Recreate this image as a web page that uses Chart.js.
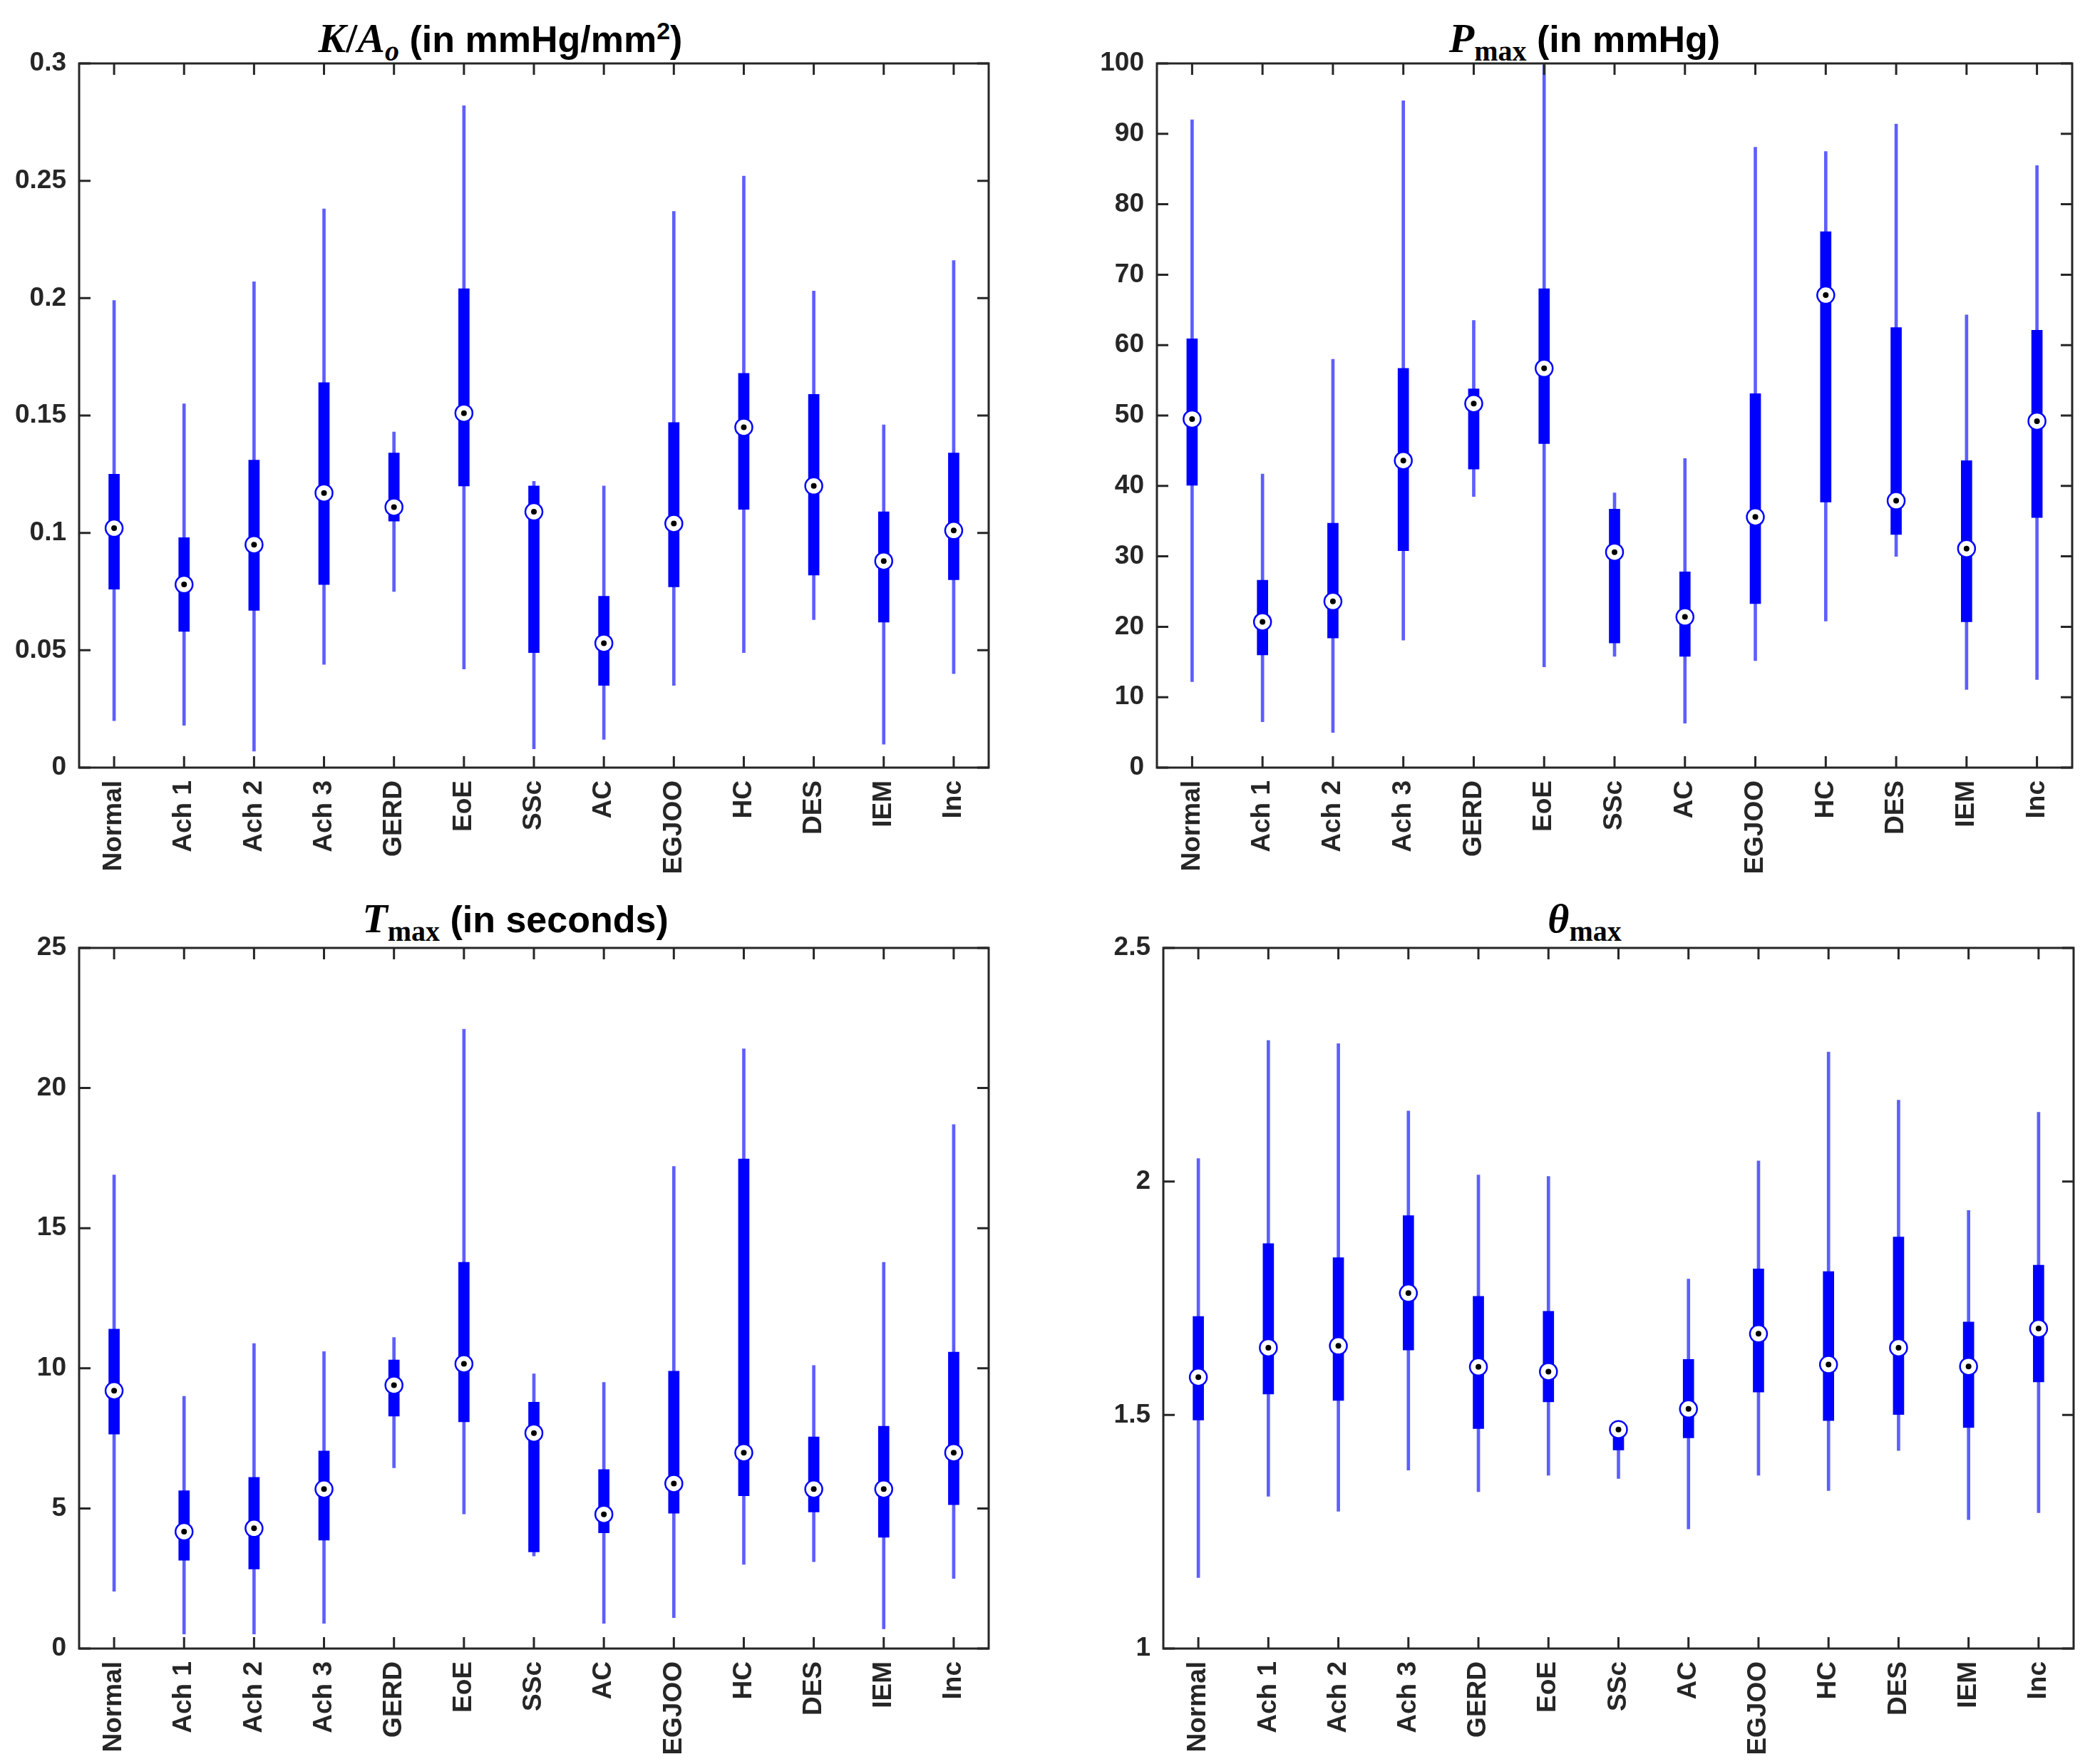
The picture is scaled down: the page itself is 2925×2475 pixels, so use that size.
<!DOCTYPE html>
<html>
<head>
  <title>Boxplots by group</title>
  <style>
    body {
      margin: 0;
      padding: 0;
      background-color: white;
      width: 2925px;
      height: 2475px;
      position: relative;
      overflow: hidden;
    }
    .panel {
      position: absolute;
    }
    .title {
      position: absolute;
      width: 900px;
      text-align: center;
      font-family: "Liberation Sans", Arial, sans-serif;
      font-weight: bold;
      font-size: 52px;
      line-height: 60px;
      color: black;
      white-space: nowrap;
    }
    .m {
      font-family: "Liberation Serif", "DejaVu Serif", serif;
      font-style: italic;
      font-weight: bold;
      font-size: 58px;
    }
    .sub {
      font-family: "Liberation Serif", "DejaVu Serif", serif;
      font-weight: bold;
      font-size: 40px;
      position: relative;
      top: 12px;
    }
    .subi {
      font-style: italic;
    }
    .sup {
      font-size: 34px;
      position: relative;
      top: -18px;
    }
  </style>
</head>
<body>
  <div class="title" style="left:252px; top:24px;"><span class="m">K</span><span class="m" style="font-style:normal">/</span><span class="m">A</span><span class="sub subi">o</span> (in mmHg/mm<span class="sup">2</span>)</div>
  <div class="title" style="left:1773px; top:24px;"><span class="m">P</span><span class="sub">max</span> (in mmHg)</div>
  <div class="title" style="left:273px; top:1259px;"><span class="m">T</span><span class="sub">max</span> (in seconds)</div>
  <div class="title" style="left:1773px; top:1259px;"><span class="m">θ</span><span class="sub">max</span></div>

  <canvas id="c1" class="panel" style="left:0px; top:0px;" width="1462" height="1237"></canvas>
  <canvas id="c2" class="panel" style="left:1462px; top:0px;" width="1463" height="1237"></canvas>
  <canvas id="c3" class="panel" style="left:0px; top:1237px;" width="1462" height="1238"></canvas>
  <canvas id="c4" class="panel" style="left:1462px; top:1237px;" width="1463" height="1238"></canvas>

  <script src="https://cdn.jsdelivr.net/npm/chart.js"></script>
  <script>
    const categories = ["Normal", "Ach 1", "Ach 2", "Ach 3", "GERD", "EoE", "SSc", "AC", "EGJOO", "HC", "DES", "IEM", "Inc"];

    // K/Ao (mmHg/mm^2)
    const kLow  = [0.020, 0.018, 0.007, 0.044, 0.075, 0.042, 0.008, 0.012, 0.035, 0.049, 0.063, 0.010, 0.040];
    const kQ1   = [0.076, 0.058, 0.067, 0.078, 0.105, 0.120, 0.049, 0.035, 0.077, 0.110, 0.082, 0.062, 0.080];
    const kMed  = [0.102, 0.078, 0.095, 0.117, 0.111, 0.151, 0.109, 0.053, 0.104, 0.145, 0.120, 0.088, 0.101];
    const kQ3   = [0.125, 0.098, 0.131, 0.164, 0.134, 0.204, 0.120, 0.073, 0.147, 0.168, 0.159, 0.109, 0.134];
    const kHigh = [0.199, 0.155, 0.207, 0.238, 0.143, 0.282, 0.122, 0.120, 0.237, 0.252, 0.203, 0.146, 0.216];

    // Pmax (mmHg)
    const pLow  = [12.2, 6.5, 5.0, 18.1, 38.5, 14.3, 15.8, 6.3, 15.2, 20.8, 30.0, 11.1, 12.5];
    const pQ1   = [40.1, 16.0, 18.4, 30.8, 42.4, 46.0, 17.7, 15.8, 23.3, 37.7, 33.1, 20.7, 35.5];
    const pMed  = [49.5, 20.7, 23.6, 43.6, 51.7, 56.7, 30.6, 21.4, 35.6, 67.1, 37.9, 31.1, 49.2];
    const pQ3   = [60.9, 26.6, 34.7, 56.7, 53.8, 68.0, 36.7, 27.8, 53.1, 76.1, 62.5, 43.6, 62.1];
    const pHigh = [92.0, 41.7, 58.0, 94.7, 63.5, 99.8, 39.0, 43.9, 88.1, 87.5, 91.4, 64.3, 85.5];

    // Tmax (s)
    const tLow  = [2.04, 0.52, 0.52, 0.90, 6.45, 4.80, 3.30, 0.90, 1.10, 3.00, 3.10, 0.70, 2.50];
    const tQ1   = [7.65, 3.15, 2.84, 3.87, 8.29, 8.09, 3.45, 4.13, 4.83, 5.45, 4.87, 3.97, 5.13];
    const tMed  = [9.20, 4.17, 4.29, 5.69, 9.40, 10.16, 7.69, 4.79, 5.89, 6.99, 5.69, 5.69, 6.99];
    const tQ3   = [11.40, 5.63, 6.11, 7.05, 10.30, 13.78, 8.79, 6.39, 9.90, 17.47, 7.55, 7.93, 10.58];
    const tHigh = [16.90, 9.00, 10.88, 10.60, 11.10, 22.10, 9.80, 9.50, 17.20, 21.40, 10.10, 13.78, 18.70];

    // theta max
    const thLow  = [1.152, 1.326, 1.294, 1.382, 1.336, 1.371, 1.364, 1.256, 1.371, 1.338, 1.424, 1.276, 1.291];
    const thQ1   = [1.489, 1.545, 1.531, 1.639, 1.471, 1.528, 1.425, 1.451, 1.549, 1.488, 1.501, 1.473, 1.571];
    const thMed  = [1.581, 1.644, 1.648, 1.761, 1.603, 1.593, 1.469, 1.513, 1.674, 1.608, 1.644, 1.604, 1.685];
    const thQ3   = [1.711, 1.867, 1.837, 1.927, 1.754, 1.722, 1.480, 1.619, 1.813, 1.807, 1.881, 1.699, 1.821];
    const thHigh = [2.049, 2.302, 2.295, 2.151, 2.014, 2.011, 1.485, 1.791, 2.044, 2.277, 2.174, 1.938, 2.148];

    const axisColor = "#262626";
    const tickFont = { family: "'Liberation Sans', Arial, sans-serif", size: 37, weight: "bold" };

    // matlab style box with ticks pointing inward on all four sides
    const innerTicks = {
      id: "innerTicks",
      afterDraw(chart) {
        const ctx = chart.ctx;
        const a = chart.chartArea;
        const len = 16;
        ctx.save();
        ctx.strokeStyle = axisColor;
        ctx.lineWidth = 3;
        ctx.beginPath();
        chart.scales.x.ticks.forEach((t, i) => {
          const px = chart.scales.x.getPixelForTick(i);
          ctx.moveTo(px, a.bottom);
          ctx.lineTo(px, a.bottom - len);
          ctx.moveTo(px, a.top);
          ctx.lineTo(px, a.top + len);
        });
        chart.scales.y.ticks.forEach((t) => {
          const py = chart.scales.y.getPixelForValue(t.value);
          ctx.moveTo(a.left, py);
          ctx.lineTo(a.left + len, py);
          ctx.moveTo(a.right, py);
          ctx.lineTo(a.right - len, py);
        });
        ctx.stroke();
        ctx.strokeRect(a.left, a.top, a.right - a.left, a.bottom - a.top);
        ctx.restore();
      }
    };

    function makeChart(id, low, q1, med, q3, high, yMin, yMax, step, box) {
      const ctx = document.getElementById(id).getContext("2d");
      const whiskers = low.map((v, i) => [v, high[i]]);
      const boxes = q1.map((v, i) => [v, q3[i]]);
      return new Chart(ctx, {
        data: {
          labels: categories,
          datasets: [
            {
              type: "bar",
              data: whiskers,
              backgroundColor: "rgba(40, 40, 255, 0.75)",
              barThickness: 4,
              grouped: false,
              order: 4
            },
            {
              type: "bar",
              data: boxes,
              backgroundColor: "#0000ff",
              barThickness: 15,
              grouped: false,
              order: 3
            },
            {
              type: "line",
              data: med,
              showLine: false,
              pointRadius: 12,
              pointBackgroundColor: "white",
              pointBorderColor: "#0000ff",
              pointBorderWidth: 2.5,
              order: 2
            },
            {
              type: "line",
              data: med,
              showLine: false,
              pointRadius: 4,
              pointBackgroundColor: "black",
              pointBorderWidth: 0,
              order: 1
            }
          ]
        },
        options: {
          responsive: false,
          animation: false,
          devicePixelRatio: 1,
          layout: { padding: { left: 0, top: box.top, right: box.right, bottom: 0 } },
          plugins: { legend: { display: false }, tooltip: { enabled: false } },
          scales: {
            x: {
              type: "category",
              offset: true,
              grid: { display: false, drawTicks: false },
              border: { display: false },
              ticks: {
                color: axisColor,
                font: tickFont,
                autoSkip: false,
                minRotation: 90,
                maxRotation: 90,
                padding: 18
              },
              afterFit(scale) { scale.height = box.xh; }
            },
            y: {
              min: yMin,
              max: yMax,
              grid: { display: false, drawTicks: false },
              border: { display: false },
              ticks: {
                stepSize: step,
                color: axisColor,
                font: tickFont,
                padding: 18,
                callback: (v) => String(Math.round(v * 1000) / 1000)
              },
              afterFit(scale) { scale.width = box.yw; }
            }
          }
        },
        plugins: [innerTicks]
      });
    }

    makeChart("c1", kLow, kQ1, kMed, kQ3, kHigh, 0, 0.3, 0.05, { top: 89, right: 75, yw: 111, xh: 160 });
    makeChart("c2", pLow, pQ1, pMed, pQ3, pHigh, 0, 100, 10, { top: 89, right: 18, yw: 161, xh: 160 });
    makeChart("c3", tLow, tQ1, tMed, tQ3, tHigh, 0, 25, 5, { top: 93, right: 75, yw: 111, xh: 162 });
    makeChart("c4", thLow, thQ1, thMed, thQ3, thHigh, 1, 2.5, 0.5, { top: 93, right: 16, yw: 170, xh: 162 });
  </script>
</body>
</html>
